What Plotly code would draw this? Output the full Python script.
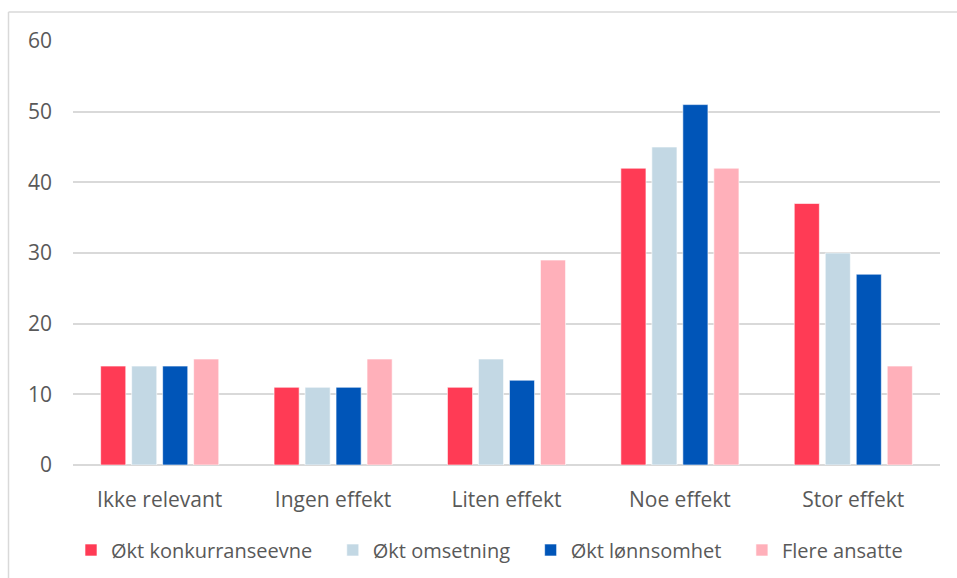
import plotly.graph_objects as go

categories = ["Ikke relevant", "Ingen effekt", "Liten effekt", "Noe effekt", "Stor effekt"]
series_names = ["Økt konkurranseevne", "Økt omsetning", "Økt lønnsomhet", "Flere ansatte"]
konkurranseevne = [14, 11, 11, 42, 37]
omsetning = [14, 11, 15, 45, 30]
lonnsomhet = [14, 11, 12, 51, 27]
flere_ansatte = [15, 15, 29, 42, 14]
y_ticks = [0, 10, 20, 30, 40, 50, 60]

colors = ["#FF3B55", "#C3D8E4", "#0055B8", "#FFB0BA"]
values = [konkurranseevne, omsetning, lonnsomhet, flere_ansatte]

fig = go.Figure()
for i, (name, vals, col) in enumerate(zip(series_names, values, colors)):
    # a little trailing space so legend entries sit further apart, like the original
    label = name + ("\u00a0\u00a0\u00a0" if i < len(series_names) - 1 else "")
    fig.add_trace(go.Bar(
        x=categories, y=vals, name=label,
        marker=dict(color=col, line=dict(color="rgba(255,255,255,0.6)", width=1)),
    ))

W, H = 957, 578
L, R, T, B = 73, 17, 41, 113
pw, ph = W - L - R, H - T - B

frame = dict(color="#D9D9D9", width=1.5)
font_family = "Open Sans, Liberation Sans, sans-serif"
fig.update_layout(
    width=W, height=H,
    margin=dict(l=L, r=R, t=T, b=B, autoexpand=False),
    paper_bgcolor="white", plot_bgcolor="white",
    barmode="group", bargap=0.285, bargroupgap=0.19,
    font=dict(family=font_family, size=21, color="#595959"),
    showlegend=True,
    legend=dict(orientation="h", x=0.5 - 17 / pw, xanchor="center",
                yref="container", y=1 - 550 / H, yanchor="middle",
                font=dict(size=20, color="#595959"), itemwidth=30, traceorder="normal"),
    shapes=[
        # outer chart frame: only the top and left edges are visible in the original
        dict(type="line", xref="paper", yref="paper", x0=-(L - 8.5) / pw, x1=1 + R / pw,
             y0=1 + (T - 12) / ph, y1=1 + (T - 12) / ph, line=frame),
        dict(type="line", xref="paper", yref="paper", x0=-(L - 8.5) / pw, x1=-(L - 8.5) / pw,
             y0=-B / ph, y1=1 + (T - 12) / ph, line=frame),
    ],
)
fig.update_yaxes(range=[0, 60], tickvals=y_ticks, showgrid=True, gridcolor="#D9D9D9",
                 gridwidth=1.5, zeroline=True, zerolinecolor="#D9D9D9", zerolinewidth=1.5,
                 showline=False, ticks="", ticklabelstandoff=20)
fig.update_xaxes(showgrid=False, showline=False, ticks="", ticklabelstandoff=20)

# drop the default page margin and scrollbars so the figure fills the window exactly
fig.write_html("out.html", config={"displayModeBar": False},
               post_script="document.body.style.margin='0';"
                           "document.body.style.overflow='hidden';")
